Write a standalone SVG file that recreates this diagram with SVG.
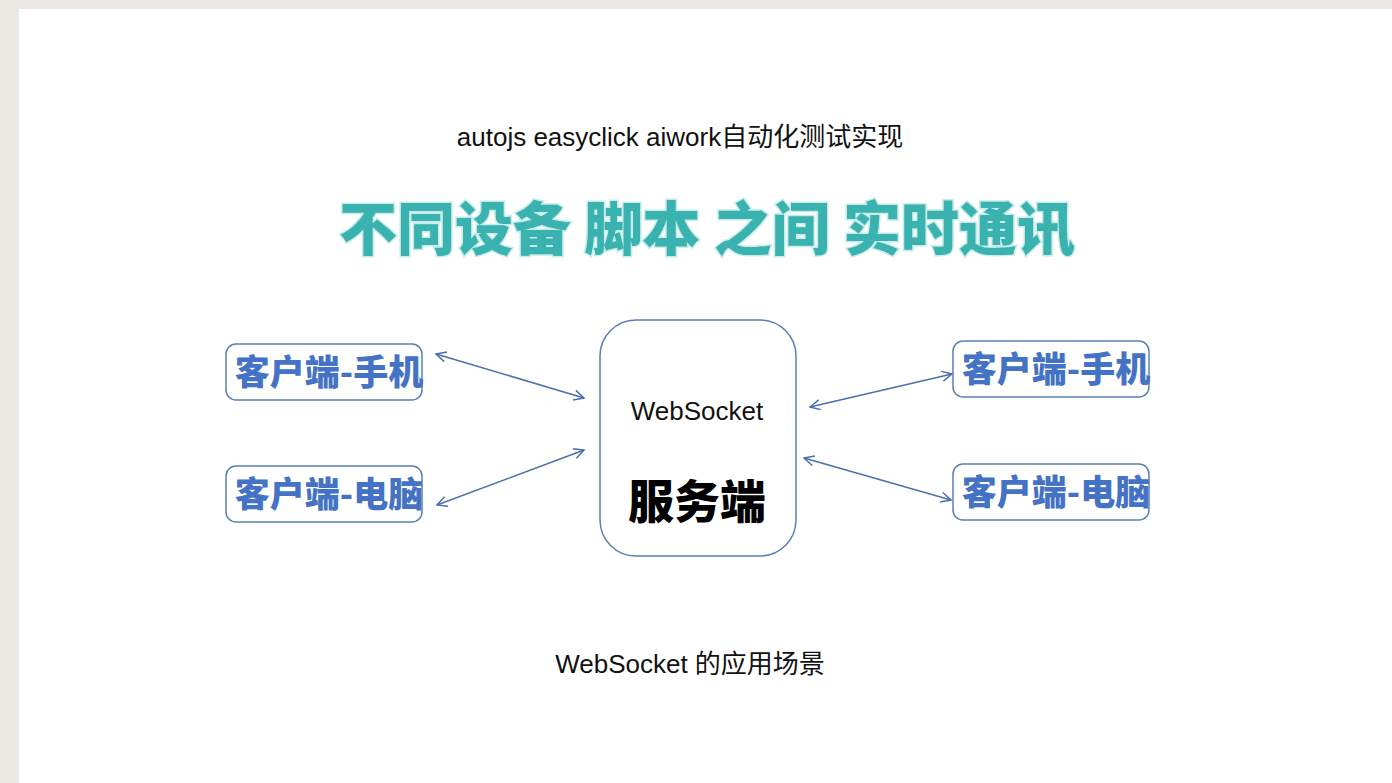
<svg xmlns="http://www.w3.org/2000/svg" width="1392" height="783" viewBox="0 0 1392 783">
<style>
.box{fill:#fff;stroke:#5b7fb5;stroke-width:1.5}
.cl{font-family:"Noto Sans CJK SC","Liberation Sans",sans-serif;font-weight:900;font-size:35px;fill:#4472c4;text-anchor:middle}
.conn{stroke:#4a6fae;stroke-width:1.5;fill:none;marker-start:url(#ah);marker-end:url(#ah)}
.cap{font-family:"Liberation Sans","Noto Sans CJK SC",sans-serif;font-size:26px;fill:#111;text-anchor:middle}
</style>
<defs>
<marker id="ah" viewBox="0 0 12 12" refX="11" refY="6" markerWidth="12" markerHeight="12" markerUnits="userSpaceOnUse" orient="auto-start-reverse">
<path d="M1,1 L11,6 L1,11" fill="none" stroke="#4a6fae" stroke-width="1.5"/>
</marker>
</defs>
<rect x="0" y="0" width="1392" height="783" fill="#ebe8e4"/>
<rect x="19" y="9" width="1373" height="774" fill="#ffffff"/>
<text class="cap" x="680" y="146">autojs easyclick aiwork自动化测试实现</text>
<text x="707" y="250" font-family="Noto Sans CJK SC, sans-serif" font-weight="900" font-size="58" text-anchor="middle" fill="#3ab3b0" stroke="#c8ecea" stroke-width="3" paint-order="stroke">不同设备 脚本 之间 实时通讯</text>
<g id="connectors">
<line class="conn" x1="436" y1="354" x2="584" y2="398"/>
<line class="conn" x1="437" y1="505" x2="584" y2="450"/>
<line class="conn" x1="810" y1="407" x2="952" y2="374"/>
<line class="conn" x1="804" y1="458" x2="951" y2="500"/>
</g>
<g id="server">
<rect class="box" x="600" y="320" width="196" height="236" rx="36"/>
<text class="cap" x="697" y="420">WebSocket</text>
<text x="697" y="518" font-family="Noto Sans CJK SC, sans-serif" font-weight="900" font-size="46" text-anchor="middle" fill="#000">服务端</text>
</g>
<g id="client-phone-left">
<rect class="box" x="226" y="344" width="196" height="56" rx="10"/>
<text class="cl" x="329" y="385">客户端-手机</text>
</g>
<g id="client-pc-left">
<rect class="box" x="226" y="466" width="196" height="56" rx="10"/>
<text class="cl" x="329" y="507">客户端-电脑</text>
</g>
<g id="client-phone-right">
<rect class="box" x="953" y="341" width="196" height="56" rx="10"/>
<text class="cl" x="1056" y="382">客户端-手机</text>
</g>
<g id="client-pc-right">
<rect class="box" x="953" y="464" width="196" height="56" rx="10"/>
<text class="cl" x="1056" y="505">客户端-电脑</text>
</g>
<text class="cap" x="690" y="673">WebSocket 的应用场景</text>
</svg>
